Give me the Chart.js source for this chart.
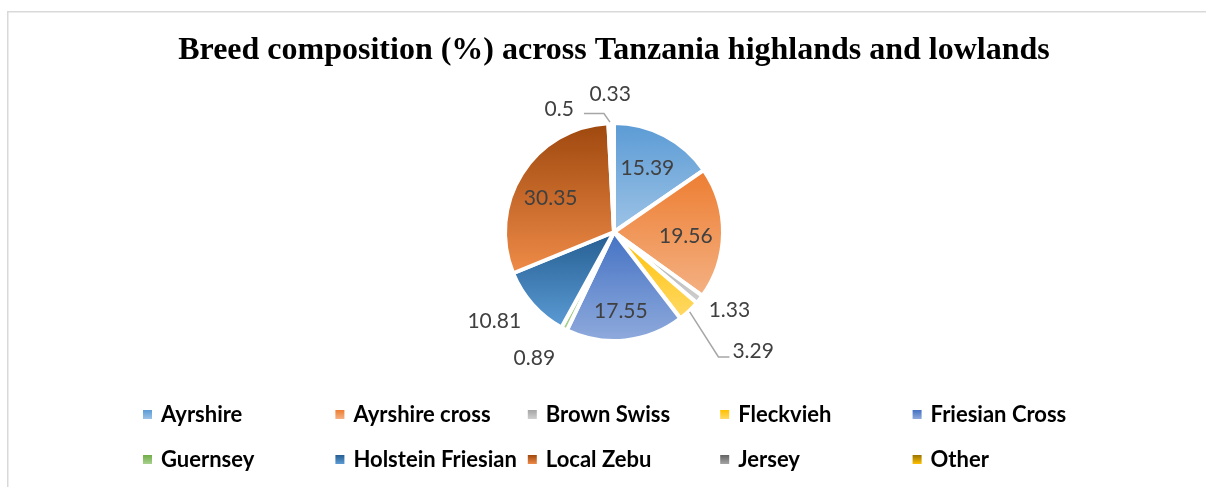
<!DOCTYPE html>
<html>
<head>
<meta charset="utf-8">
<script src="https://cdn.jsdelivr.net/npm/chart.js@4/dist/chart.umd.min.js"></script>
<style>
  html, body { margin: 0; padding: 0; background: #fff; }
  canvas { display: block; }
</style>
</head>
<body>
<canvas id="breedChart" width="1206" height="487"></canvas>
<script>
// breed composition (%)
var breeds = ['Ayrshire', 'Ayrshire cross', 'Brown Swiss', 'Fleckvieh', 'Friesian Cross',
              'Guernsey', 'Holstein Friesian', 'Local Zebu', 'Jersey', 'Other'];
var shares = [15.39, 19.56, 1.33, 3.29, 17.55, 0.89, 10.81, 30.35, 0.5, 0.33];

// gradient stops, top -> bottom of each slice
var topColors    = ['#5b9bd5', '#ed7d31', '#a5a5a5', '#ffc000', '#4472c4',
                    '#70ad47', '#255e91', '#9e480e', '#636363', '#997300'];
var bottomColors = ['#9dc3e6', '#f4b183', '#cfcfcf', '#ffd966', '#8faadc',
                    '#a9d18e', '#5b9bd5', '#ef8b48', '#a5a5a5', '#ffc000'];

// label placement: [radius factor, angle shift in degrees]
var labelPlace = [[0.66, 0], [0.66, 3], [1.28, -4], [1.68, -6], [0.73, 1],
                  [1.37, 5], [1.37, 5], [0.66, -4], [1.23, -22], [1.26, -1]];
// leader lines: side of label, offset from label edge, horizontal length, y shift
var leaders = [null, null, null, {side: 'left', gap: 3, len: 11, dy: 6}, null,
               null, null, null, {side: 'right', gap: 10, len: 20, dy: 4}, null];

var BORDER = 4;

function sliceGradient(context) {
  var chart = context.chart;
  var area = chart.chartArea;
  if (!area) return topColors[context.dataIndex];
  var i = context.dataIndex;
  var total = shares.reduce(function(a, b) { return a + b; }, 0);
  var before = 0;
  for (var k = 0; k < i; k++) before += shares[k];
  var a0 = -Math.PI / 2 + before / total * 2 * Math.PI;
  var a1 = a0 + shares[i] / total * 2 * Math.PI;
  var cy = (area.top + area.bottom) / 2;
  var r = (Math.min(area.width, area.height) - BORDER) / 2;
  var ys = [cy, cy + r * Math.sin(a0), cy + r * Math.sin(a1)];
  [Math.PI / 2, 3 * Math.PI / 2].forEach(function(a) {
    if (a > a0 && a < a1) ys.push(cy + r * Math.sin(a));
  });
  var y0 = Math.min.apply(null, ys), y1 = Math.max.apply(null, ys);
  if (y1 - y0 < 1) y1 = y0 + 1;
  var g = chart.ctx.createLinearGradient(0, y0, 0, y1);
  g.addColorStop(0, topColors[i]);
  g.addColorStop(1, bottomColors[i]);
  return g;
}

var frame = {
  id: 'frame',
  beforeDraw: function(chart) {
    var ctx = chart.ctx;
    ctx.save();
    ctx.fillStyle = '#fff';
    ctx.fillRect(0, 0, chart.width, chart.height);
    ctx.strokeStyle = '#d9d9d9';
    ctx.lineWidth = 1.5;
    ctx.strokeRect(7.75, 11.75, chart.width + 50, chart.height + 50);
    ctx.restore();
  }
};

var sliceLabels = {
  id: 'sliceLabels',
  afterDatasetsDraw: function(chart) {
    var ctx = chart.ctx;
    var meta = chart.getDatasetMeta(0);
    ctx.save();
    ctx.font = '21px Lato';
    ctx.fillStyle = '#404040';
    ctx.textAlign = 'center';
    ctx.textBaseline = 'middle';
    meta.data.forEach(function(arc, i) {
      var p = arc.getProps(['x', 'y', 'startAngle', 'endAngle', 'outerRadius'], true);
      var mid = (p.startAngle + p.endAngle) / 2;
      var a = mid + labelPlace[i][1] * Math.PI / 180;
      var rr = p.outerRadius * labelPlace[i][0];
      var lx = p.x + rr * Math.cos(a);
      var ly = p.y + rr * Math.sin(a);
      var text = String(shares[i]);
      var w = ctx.measureText(text).width;
      var ld = leaders[i];
      if (ld) {
        var ex = ld.side === 'left' ? lx - w / 2 - ld.gap : lx + w / 2 + ld.gap;
        var ey = ly + ld.dy;
        var bx = ld.side === 'left' ? ex - ld.len : ex + ld.len;
        var sx = p.x + (p.outerRadius + 1) * Math.cos(mid);
        var sy = p.y + (p.outerRadius + 1) * Math.sin(mid);
        ctx.strokeStyle = '#a6a6a6';
        ctx.lineWidth = 1.5;
        ctx.beginPath();
        ctx.moveTo(sx, sy);
        ctx.lineTo(bx, ey);
        ctx.lineTo(ex, ey);
        ctx.stroke();
      }
      ctx.fillText(text, lx, ly);
    });
    ctx.restore();
  }
};

var gridLegend = {
  id: 'gridLegend',
  afterDraw: function(chart) {
    var ctx = chart.ctx;
    ctx.save();
    ctx.font = 'bold 22px Lato';
    ctx.textBaseline = 'middle';
    ctx.textAlign = 'left';
    breeds.forEach(function(name, i) {
      var col = i % 5, row = Math.floor(i / 5);
      var x = 143 + col * 192.4;
      var y = 414.5 + row * 45;
      var g = ctx.createLinearGradient(0, y - 4.5, 0, y + 4.5);
      g.addColorStop(0, topColors[i]);
      g.addColorStop(1, bottomColors[i]);
      ctx.fillStyle = g;
      ctx.fillRect(x, y - 4.5, 9, 9);
      ctx.fillStyle = '#000';
      ctx.fillText(name, x + 18, y);
    });
    ctx.restore();
  }
};

new Chart(document.getElementById('breedChart'), {
  type: 'pie',
  data: {
    labels: breeds,
    datasets: [{
      data: shares,
      backgroundColor: sliceGradient,
      borderColor: '#ffffff',
      borderWidth: BORDER
    }]
  },
  options: {
    responsive: false,
    animation: false,
    layout: {
      padding: { left: 22, right: 0, top: 0, bottom: 144 }
    },
    plugins: {
      legend: { display: false },
      tooltip: { enabled: false },
      title: {
        display: true,
        text: 'Breed composition (%) across Tanzania highlands and lowlands',
        color: '#000',
        font: { family: 'Liberation Serif', size: 32, weight: 'bold', lineHeight: 1.2 },
        padding: { top: 32, bottom: 50.6 }
      }
    }
  },
  plugins: [frame, sliceLabels, gridLegend]
});
</script>
</body>
</html>
